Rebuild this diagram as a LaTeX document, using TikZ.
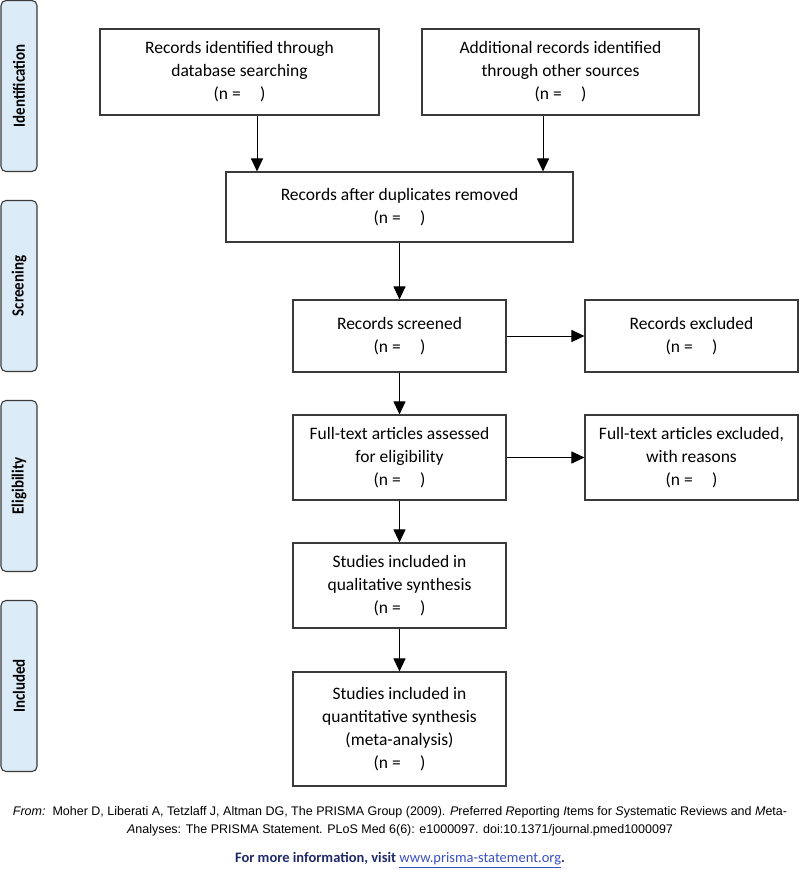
\documentclass[tikz,border=0pt]{standalone}
\usepackage{fontspec}
\usepackage{graphicx}
\setmainfont{Carlito}
\newfontfamily\arialf{Liberation Sans}
\usetikzlibrary{arrows.meta}
\definecolor{sidefill}{HTML}{DCEBF8}
\definecolor{edgegray}{HTML}{3A3A3A}
\definecolor{navytext}{HTML}{1F2A6B}
\definecolor{linkblue}{HTML}{3A4FC0}
\newcommand{\nblank}{(n =\hspace{1.1em})}
\newcommand{\sidetext}[1]{\scalebox{0.88}[1]{\fontsize{17}{20}\selectfont\bfseries #1}}
\begin{document}
\begin{tikzpicture}[x=1pt,y=-1pt,
  flowbox/.style={draw=edgegray, line width=1.1pt, rectangle, align=center,
    font=\fontsize{17.5}{23}\selectfont, inner sep=0pt},
  sidebox/.style={draw=edgegray, line width=1.1pt, fill=sidefill, rounded corners=5pt,
    rotate=90, minimum width=171pt, minimum height=36pt, inner sep=0pt},
  arr/.style={draw=black, line width=1pt, -{Triangle[width=12pt,length=13pt]}},
  foot/.style={font=\arialf\fontsize{12.5}{14}\selectfont, inner sep=0pt}]
\useasboundingbox (0,0) rectangle (800,875);

% side labels
\node[sidebox] (sIdent) at (19,86) {\sidetext{Identification}};
\node[sidebox] (sScreen) at (19,286) {\sidetext{Screening}};
\node[sidebox] (sElig) at (19,486) {\sidetext{Eligibility}};
\node[sidebox] (sIncl) at (19,686) {\sidetext{Included}};

% flow boxes
\node[flowbox, minimum width=279pt, minimum height=86pt] (b1) at (239.5,72)
  {Records identified through\\database searching\\\nblank};
\node[flowbox, minimum width=277pt, minimum height=86pt] (b2) at (560.5,72)
  {Additional records identified\\through other sources\\\nblank};
\node[flowbox, minimum width=347pt, minimum height=70pt] (b3) at (399.5,207)
  {Records after duplicates removed\\\nblank};
\node[flowbox, minimum width=213pt, minimum height=72pt] (b4) at (399.5,336)
  {Records screened\\\nblank};
\node[flowbox, minimum width=213pt, minimum height=72pt] (b5) at (691.5,336)
  {Records excluded\\\nblank};
\node[flowbox, minimum width=213pt, minimum height=85pt] (b6) at (399.5,457.5)
  {Full-text articles assessed\\for eligibility\\\nblank};
\node[flowbox, minimum width=213pt, minimum height=85pt] (b7) at (691.5,457.5)
  {Full-text articles excluded,\\with reasons\\\nblank};
\node[flowbox, minimum width=213pt, minimum height=85pt] (b8) at (399.5,585.5)
  {Studies included in\\qualitative synthesis\\\nblank};
\node[flowbox, minimum width=213pt, minimum height=114pt] (b9) at (399.5,729)
  {Studies included in\\quantitative synthesis\\(meta-analysis)\\\nblank};

% connectors
\coordinate (xa) at (257,0);
\coordinate (xb) at (543,0);
\draw[arr] (b1.south -| xa) -- (b3.north -| xa);
\draw[arr] (b2.south -| xb) -- (b3.north -| xb);
\draw[arr] (b3.south -| b4.north) -- (b4.north);
\draw[arr] (b4.east) -- (b5.west);
\draw[arr] (b4.south) -- (b6.north);
\draw[arr] (b6.east) -- (b7.west);
\draw[arr] (b6.south) -- (b8.north);
\draw[arr] (b8.south) -- (b9.north);

% footer
\node[foot] (f1) at (400,812) {\textit{From:}\ \ Moher D, Liberati A, Tetzlaff J, Altman DG, The PRISMA Group (2009). \textit{P}referred \textit{R}eporting \textit{I}tems for \textit{S}ystematic Reviews and \textit{M}eta-};
\node[foot] (f2) at (400,830) {\textit{A}nalyses: The PRISMA Statement. PLoS Med 6(6): e1000097. doi:10.1371/journal.pmed1000097};
\node[inner sep=0pt, font=\fontsize{14.5}{17}\selectfont, text=navytext] (f3) at (400,860)
  {\textbf{For more information, visit }{\color{linkblue}\underline{www.prisma-statement.org}}\textbf{.}};
\end{tikzpicture}
\end{document}
